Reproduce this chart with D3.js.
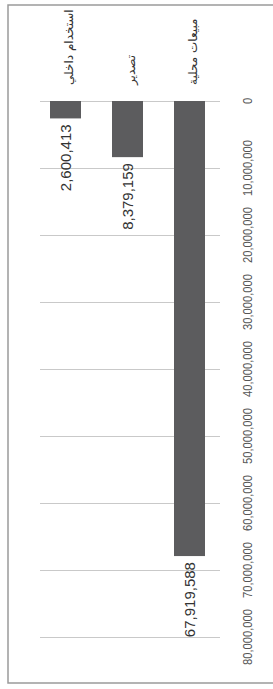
<!DOCTYPE html>
<html><head><meta charset="utf-8">
<script src="https://cdn.jsdelivr.net/npm/d3@7"></script>
<style>html,body{margin:0;padding:0;background:#fff;overflow:hidden}</style>
</head><body>
<svg id="c" width="273" height="689"></svg>
<script>
const categories = ["استخدام داخلي", "تصدير", "مبيعات محلية"];
const values = [2600413, 8379159, 67919588];
const tickValues = [0, 10000000, 20000000, 30000000, 40000000, 50000000, 60000000, 70000000, 80000000];

const svg = d3.select("#c");
const fmt = d3.format(",");

// value scale runs downward (chart is rotated)
const y = d3.scaleLinear().domain([0, 80000000]).range([101, 637]);
const x = d3.scaleBand().domain(categories).range([34.5, 220.5]).paddingInner(0.5).paddingOuter(0.25);

// border
svg.append("rect").attr("x", 8).attr("y", 5).attr("width", 270).attr("height", 678)
  .attr("fill", "none").attr("stroke", "#9a9a9a").attr("stroke-width", 1.5);

// gridlines
svg.append("g").selectAll("line").data(tickValues).join("line")
  .attr("x1", 40).attr("x2", 220)
  .attr("y1", d => Math.round(y(d)) + 0.5).attr("y2", d => Math.round(y(d)) + 0.5)
  .attr("stroke", "#c9c9c9").attr("stroke-width", 1);

// tick labels
svg.append("g").selectAll("text").data(tickValues).join("text")
  .attr("transform", d => `translate(248,${y(d)}) rotate(-90) scale(0.9,1)`)
  .attr("text-anchor", "middle").attr("dominant-baseline", "central")
  .attr("font-family", "Liberation Sans, Arial, sans-serif").attr("font-size", 12.5)
  .attr("fill", "#555").text(d => fmt(d));

// bars
svg.append("g").selectAll("rect").data(values).join("rect")
  .attr("x", (d, i) => x(categories[i]))
  .attr("width", x.bandwidth())
  .attr("y", y(0))
  .attr("height", d => y(d) - y(0))
  .attr("fill", "#5c5c5e");

// value labels
svg.append("g").selectAll("text").data(values).join("text")
  .attr("transform", (d, i) => `translate(${x(categories[i]) + x.bandwidth() / 2},${y(d) + 6}) rotate(-90)`)
  .attr("text-anchor", "end").attr("dominant-baseline", "central")
  .attr("font-family", "Liberation Sans, Arial, sans-serif").attr("font-size", 15)
  .attr("fill", "#333").text(d => fmt(d));

// category labels
svg.append("g").selectAll("text").data(categories).join("text")
  .attr("transform", d => `translate(${x(d) + x.bandwidth() / 2 + 3},85) rotate(-90)`)
  .attr("text-anchor", "start").attr("dominant-baseline", "central")
  .attr("font-family", "DejaVu Sans, Noto Sans, sans-serif").attr("font-size", 12)
  .attr("fill", "#333").text(d => d);
</script>
</body></html>
